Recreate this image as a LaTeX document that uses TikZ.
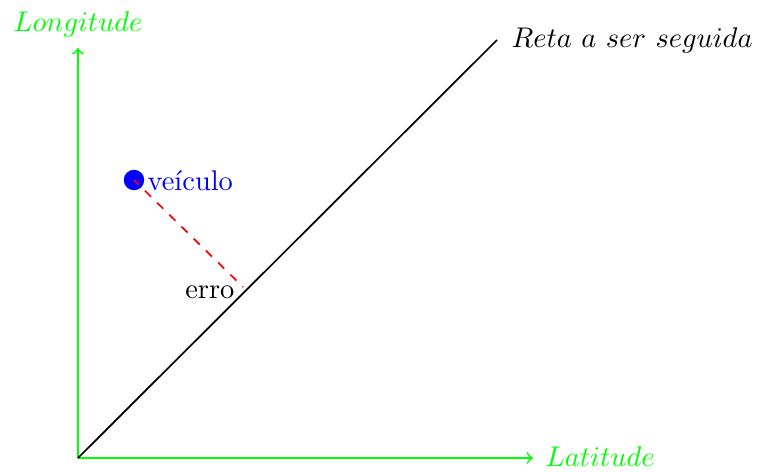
\documentclass[tikz,border=0pt]{standalone}
\usetikzlibrary{arrows}
\definecolor{axisgreen}{rgb}{0,1,0}
\tikzset{
  axis/.style={draw=axisgreen, semithick, ->},
  axislabel/.style={text=axisgreen, inner sep=0pt},
  path line/.style={draw=black, semithick},
  err line/.style={draw=red, semithick, dash pattern=on 3pt off 3pt, dash phase=0.6pt},
}
\begin{document}
\begin{tikzpicture}[x=0.3514pt, y=-0.3514pt]
\useasboundingbox (0,0) rectangle (757,471);
\coordinate (O) at (78,458);
\coordinate (X) at (533,458);
\coordinate (Y) at (78,48);
\coordinate (R) at (497,40);
\coordinate (F) at (243,287);
\draw[axis] (O) -- (X);
\draw[axis] (O) -- (Y);
\node[axislabel, anchor=base west] (lat) at (545,466) {$Latitude$};
\node[axislabel, anchor=base] (lon) at (78,31) {$Longitude$};
\draw[path line] (O) -- (R);
\node[anchor=base west, inner sep=0pt] (reta) at (511,47) {$Reta\ a\ ser\ seguida$};
\node[circle, fill=blue, minimum size=7.2pt, inner sep=0pt] (v) at (134,180) {};
\node[text=blue, anchor=base west, inner sep=0pt] (vl) at (147,190) {veículo};
\draw[err line] (v.center) -- (F);
\node[anchor=base east, inner sep=0pt] (erro) at (235,298) {erro};
\end{tikzpicture}
\end{document}
